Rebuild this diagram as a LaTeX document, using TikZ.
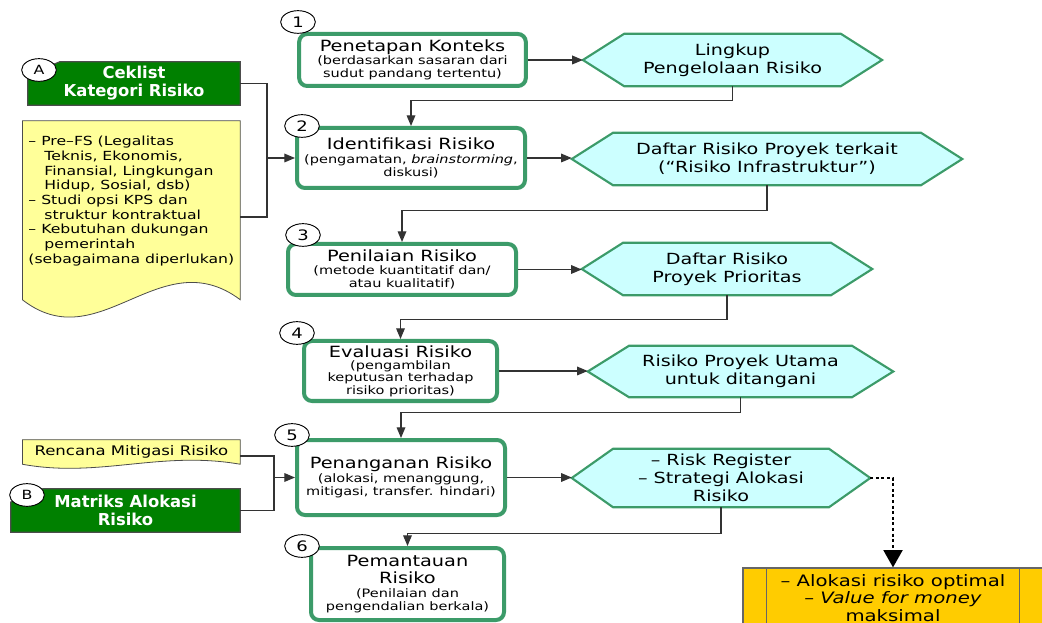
\documentclass[tikz,border=0pt]{standalone}
\usepackage{fontspec}
\setmainfont{DejaVu Sans}[FakeStretch=1.25]
\newfontfamily\tebal{DejaVu Sans}
\usepackage{tikz}
\usetikzlibrary{arrows.meta,shapes.geometric,backgrounds}
\definecolor{hijau}{RGB}{60,155,105}
\definecolor{tosca}{RGB}{204,255,255}
\definecolor{daun}{RGB}{0,128,0}
\definecolor{kuning}{RGB}{255,255,153}
\definecolor{emas}{RGB}{255,204,0}
\newcommand{\judul}{\fontsize{11.6}{13}\selectfont}
\newcommand{\kecil}{\fontsize{8.7}{9.9}\selectfont}
\newcommand{\sedang}{\fontsize{11.5}{13.5}\selectfont}
\newcommand{\daftar}{\fontsize{9.4}{11}\selectfont}

\begin{document}
\begin{tikzpicture}[x=0.75pt, y=-0.75pt,
  langkah/.style={draw=hijau, line width=3pt, rounded corners=6pt, fill=white, align=center, font=\kecil, inner sep=1pt},
  keluaran/.style={align=center, font=\sedang, inner sep=0pt},
  nomor/.style={ellipse, draw, fill=white, line width=0.7pt, minimum width=26pt, minimum height=17pt, inner sep=0pt, font=\fontsize{10.8}{12}\selectfont},
  kartu/.style={align=center, text=white, font=\tebal\bfseries\fontsize{12.3}{13.5}\selectfont, inner sep=0pt},
  dokumen/.style={inner sep=0pt},
  garis/.style={draw=black!80, line width=0.9pt},
  panah/.style={garis, -{Triangle[length=8pt,width=6.5pt]}},
]
\useasboundingbox (0,0) rectangle (1042,623);

\node[langkah, minimum width=170pt, minimum height=39pt] (konteks) at (412.5,60) {{\judul Penetapan Konteks}\\(berdasarkan sasaran dari\\sudut pandang tertentu)};
\node[langkah, minimum width=171pt, minimum height=45pt] (identifikasi) at (411,158) {{\judul Identifikasi Risiko}\\(pengamatan, \textit{brainstorming},\\diskusi)};
\node[langkah, minimum width=171pt, minimum height=38.25pt] (penilaian) at (402,269.5) {{\judul Penilaian Risiko}\\(metode kuantitatif dan/\\atau kualitatif)};
\node[langkah, minimum width=144.75pt, minimum height=45pt] (evaluasi) at (400.5,371) {{\judul Evaluasi Risiko}\\[-1pt](pengambilan\\[-0.5pt]keputusan terhadap\\[-0.5pt]risiko prioritas)};
\node[langkah, minimum width=156pt, minimum height=56.25pt] (penanganan) at (401,477.5) {{\judul Penanganan Risiko}\\(alokasi, menanggung,\\mitigasi, transfer. hindari)};
\node[langkah, minimum width=144.75pt, minimum height=54pt] (pemantauan) at (407.5,584) {{\judul Pemantauan}\\[3pt]{\judul Risiko}\\(Penilaian dan\\pengendalian berkala)};

\node[keluaran, minimum width=224pt, minimum height=39pt] (lingkup) at (732.5,60) {Lingkup\\Pengelolaan Risiko};
\node[keluaran, minimum width=292.5pt, minimum height=39pt] (daftar) at (767,159) {Daftar Risiko Proyek terkait\\(“Risiko Infrastruktur”)};
\node[keluaran, minimum width=217.5pt, minimum height=39pt] (prioritas) at (727,269) {Daftar Risiko\\Proyek Prioritas};
\node[keluaran, minimum width=228.75pt, minimum height=38.25pt] (utama) at (740.5,371.5) {Risiko Proyek Utama\\untuk ditangani};
\node[keluaran, minimum width=223.5pt, minimum height=43.5pt] (register) at (721,478) {– Risk Register\\– Strategi Alokasi\\Risiko};

\node[kartu, minimum width=159pt, minimum height=32.25pt] (ceklist) at (134,83.5) {Ceklist\\Kategori Risiko};
\node[kartu, minimum width=171.75pt, minimum height=32.25pt] (matriks) at (125.5,510.5) {Matriks Alokasi\\Risiko};

\node[dokumen, minimum width=163pt, minimum height=123.75pt, align=left, font=\daftar] (periksa) at (131.35,201) {– Pre–FS (Legalitas\\\hspace*{12pt}Teknis, Ekonomis,\\\hspace*{12pt}Finansial, Lingkungan\\\hspace*{12pt}Hidup, Sosial, dsb)\\– Studi opsi KPS dan\\\hspace*{12pt}struktur kontraktual\\– Kebutuhan dukungan\\\hspace*{12pt}pemerintah\\(sebagaimana diperlukan)};
\node[dokumen, minimum width=163pt, minimum height=18pt, font=\fontsize{9.9}{12}\selectfont] (rencana) at (131.35,452) {Rencana Mitigasi Risiko};

\node[draw=black!60, fill=emas, line width=0.8pt, minimum width=225pt, minimum height=45pt, align=center, font=\fontsize{11.8}{13}\selectfont, inner sep=0pt] (hasil) at (893,598) {– Alokasi risiko optimal\\– \textit{Value for money}\\maksimal};
\draw[draw=black!60, line width=0.8pt] ([xshift=18pt]hasil.north west) -- ([xshift=18pt]hasil.south west) ([xshift=-18pt]hasil.north east) -- ([xshift=-18pt]hasil.south east);

\begin{scope}[on background layer]
\foreach \h in {lingkup,daftar,prioritas,utama,register}
  \draw[draw=hijau, fill=tosca, line width=1.6pt] (\h.west) -- ([xshift=31pt]\h.north west) -- ([xshift=-31pt]\h.north east) -- (\h.east) -- ([xshift=-31pt]\h.south east) -- ([xshift=31pt]\h.south west) -- cycle;
\foreach \k in {ceklist,matriks}
  \draw[draw=black!70, fill=daun, line width=0.8pt] (\k.south west) -- ([yshift=-10pt]\k.north west) -- ([xshift=24pt]\k.north west) -- (\k.north east) -- (\k.south east) -- cycle;
\draw[draw=black!70, fill=kuning, line width=0.6pt] ([yshift=-1.9pt]periksa.north west) -- ([yshift=-1.9pt]periksa.north east) -- ([yshift=-12pt]periksa.south east) .. controls +(-80,-60) and +(77,60) .. ([yshift=-12pt]periksa.south west) -- cycle;
\draw[draw=black!70, fill=kuning, line width=0.6pt] (rencana.north west) -- (rencana.north east) -- (rencana.south east) .. controls +(-80,-14) and +(77,14) .. (rencana.south west) -- cycle;
\end{scope}

\node[nomor] (n1) at (298,22) {1};
\node[nomor] (n2) at (302,126) {2};
\node[nomor] (n3) at (303,235) {3};
\node[nomor] (n4) at (297,333) {4};
\node[nomor] (n5) at (292,435) {5};
\node[nomor] (n6) at (302,546) {6};
\node[nomor, font=\fontsize{9.5}{11}\selectfont] (na) at (39,70) {A};
\node[nomor, font=\fontsize{9.5}{11}\selectfont] (nb) at (27,495) {B};

\draw[panah] (konteks.east) -- (konteks.east -| lingkup.west);
\draw[panah] (identifikasi.east) -- (identifikasi.east -| daftar.west);
\draw[panah] (penilaian.east) -- (penilaian.east -| prioritas.west);
\draw[panah] (evaluasi.east) -- (evaluasi.east -| utama.west);
\draw[panah] (penanganan.east) -- (penanganan.east -| register.west);

\draw[panah] (lingkup.south) -- ++(0,14) -| (identifikasi.north);
\draw[panah] (daftar.south) -- ++(0,25) -| (penilaian.north);
\draw[panah] (prioritas.south) -- ++(0,24) -| (evaluasi.north);
\draw[panah] (utama.south) -- ++(0,15) -| (penanganan.north);
\draw[panah] (register.south) -- ++(0,26) -| (pemantauan.north);

\coordinate (simpulA) at (267,158);
\draw[garis] (ceklist.east) -| (simpulA) |- ([yshift=-12pt]periksa.east);
\draw[panah] (simpulA) -- (simpulA -| identifikasi.west);
\coordinate (simpulB) at (274,477.5);
\draw[garis] ([yshift=-3pt]rencana.east) -| (simpulB) |- (matriks.east);
\draw[panah] (simpulB) -- (simpulB -| penanganan.west);

\draw[line width=2.2pt, dash pattern=on 2.2pt off 2pt, -{Triangle[length=13pt,width=14pt]}] (register.east) -| (hasil.north);
\end{tikzpicture}
\end{document}
